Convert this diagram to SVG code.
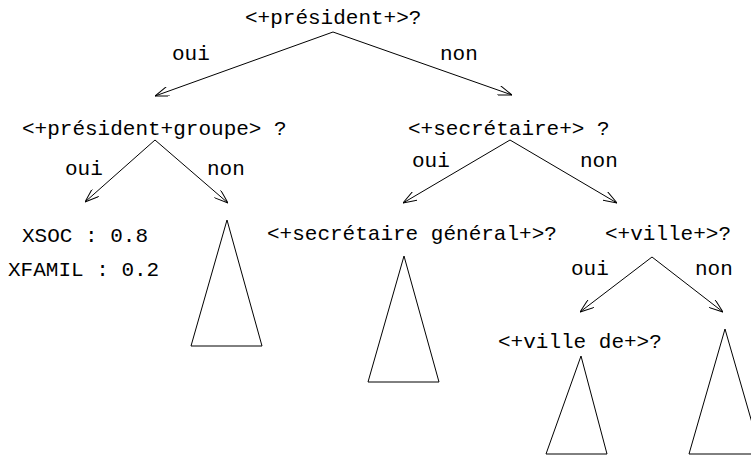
<svg xmlns="http://www.w3.org/2000/svg" width="751" height="456" viewBox="0 0 751 456">
<defs>
<marker id="arr" viewBox="0 0 14 10" refX="14" refY="5" markerWidth="14" markerHeight="10" markerUnits="userSpaceOnUse" orient="auto">
<path d="M0,0 L14,5 L0,10" fill="none" stroke="#000" stroke-width="1"/>
</marker>
<style>
text{font-family:"Liberation Mono","Courier New",monospace;font-size:21px;fill:#000}
.e{stroke:#000;stroke-width:1;fill:none;marker-end:url(#arr)}
.t{stroke:#000;stroke-width:1;fill:none}
</style>
</defs>
<rect width="751" height="456" fill="#fff"/>
<g id="connectors">
<line class="e" x1="333" y1="32" x2="155" y2="96"/>
<line class="e" x1="333" y1="32" x2="512" y2="95"/>
<line class="e" x1="155" y1="140" x2="85" y2="202"/>
<line class="e" x1="155" y1="140" x2="228" y2="203"/>
<line class="e" x1="510" y1="140" x2="403" y2="203"/>
<line class="e" x1="510" y1="140" x2="617" y2="203"/>
<line class="e" x1="652" y1="257" x2="580" y2="312"/>
<line class="e" x1="652" y1="257" x2="723" y2="312"/>
<text x="172" y="60">oui</text>
<text x="440" y="60">non</text>
<text x="65" y="175">oui</text>
<text x="207" y="175">non</text>
<text x="412" y="167">oui</text>
<text x="580" y="167">non</text>
<text x="571" y="275">oui</text>
<text x="695" y="275">non</text>
</g>
<g id="root"><text x="245" y="24">&lt;+président+&gt;?</text></g>
<g id="presgroupe"><text x="22" y="135">&lt;+président+groupe&gt; ?</text></g>
<g id="secretaire"><text x="408" y="135">&lt;+secrétaire+&gt; ?</text></g>
<g id="leaf1"><text x="22" y="242">XSOC : 0.8</text><text x="8" y="276">XFAMIL : 0.2</text></g>
<g id="tri1"><polygon class="t" points="227,220 191,346 262,346"/></g>
<g id="secgen"><text x="267" y="240">&lt;+secrétaire général+&gt;?</text></g>
<g id="tri2"><polygon class="t" points="404,256 368,382 439,382"/></g>
<g id="ville"><text x="605" y="240">&lt;+ville+&gt;?</text></g>
<g id="villede"><text x="498" y="348">&lt;+ville de+&gt;?</text></g>
<g id="tri3"><polygon class="t" points="581,356 546,454 607,454"/></g>
<g id="tri4"><polygon class="t" points="725,329 689,454 761,454"/></g>
</svg>
